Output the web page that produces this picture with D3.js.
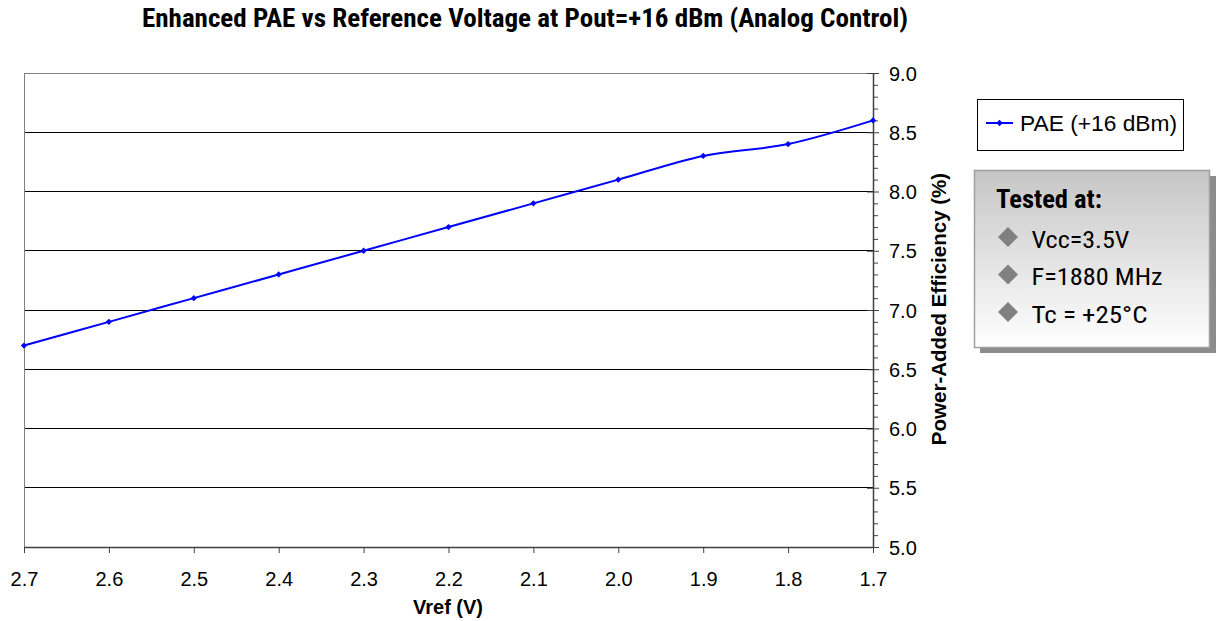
<!DOCTYPE html>
<html><head><meta charset="utf-8">
<script src="https://cdn.jsdelivr.net/npm/d3@7"></script>
<style>body{margin:0;background:#fff}svg{display:block}</style>
</head><body>
<svg id="c" width="1220" height="621"></svg>
<script>
const vref = [2.7, 2.6, 2.5, 2.4, 2.3, 2.2, 2.1, 2.0, 1.9, 1.8, 1.7];
const pae = [6.7, 6.9, 7.1, 7.3, 7.5, 7.7, 7.9, 8.1, 8.3, 8.4, 8.6];
const xTicks = [2.7, 2.6, 2.5, 2.4, 2.3, 2.2, 2.1, 2.0, 1.9, 1.8, 1.7];
const yTicks = [5.0, 5.5, 6.0, 6.5, 7.0, 7.5, 8.0, 8.5, 9.0];
const yMinor = [5.1,5.2,5.3,5.4,5.6,5.7,5.8,5.9,6.1,6.2,6.3,6.4,6.6,6.7,6.8,6.9,7.1,7.2,7.3,7.4,7.6,7.7,7.8,7.9,8.1,8.2,8.3,8.4,8.6,8.7,8.8,8.9];
const titleText = "Enhanced PAE vs Reference Voltage at Pout=+16 dBm (Analog Control)";
const xTitle = "Vref (V)";
const yTitle = "Power-Added Efficiency (%)";
const seriesName = "PAE (+16 dBm)";
const notesTitle = "Tested at:";
const notes = ["Vcc=3.5V", "F=1880 MHz", "Tc = +25°C"];
const notesWidths = [98, 131, 116];

const svg = d3.select("#c");
const L = 24, R = 873, T = 73, B = 547;
const x = d3.scaleLinear().domain([2.7, 1.7]).range([L, R]);
const y = d3.scaleLinear().domain([5, 9]).range([B, T]);
const condensed = "'Liberation Sans Narrow','Arial Narrow','Roboto Condensed',sans-serif";
const sans = "Arial,'Liberation Sans',sans-serif";

// title
svg.append("text").attr("x", 142).attr("y", 27)
  .attr("font-family", condensed).attr("font-weight", "bold").attr("font-size", 26)
  .attr("textLength", 766).attr("lengthAdjust", "spacingAndGlyphs")
  .attr("fill", "#000").text(titleText);

// gridlines
svg.append("g").selectAll("line").data(yTicks.filter(d => d > 5 && d < 9)).join("line")
  .attr("x1", L).attr("x2", R).attr("y1", d => y(d)).attr("y2", d => y(d))
  .attr("stroke", "#000").attr("stroke-width", 1).attr("shape-rendering", "crispEdges");
// plot border top & left
svg.append("line").attr("x1", L).attr("x2", R).attr("y1", T).attr("y2", T).attr("stroke", "#808080").attr("shape-rendering", "crispEdges");
svg.append("line").attr("x1", L).attr("x2", L).attr("y1", T).attr("y2", B).attr("stroke", "#808080").attr("shape-rendering", "crispEdges");

// right axis
const yAxis = d3.axisRight(y).tickValues(yTicks).tickFormat(d3.format(".1f")).tickSizeInner(6).tickSizeOuter(0).tickPadding(10);
const gy = svg.append("g").attr("transform", `translate(${R},0)`).call(yAxis);
gy.select(".domain").attr("stroke", "#404040").attr("stroke-width", 1.5);
gy.selectAll(".tick line").attr("x1", -6).attr("x2", 6).attr("stroke", "#404040");
gy.selectAll(".tick text").attr("font-family", sans).attr("font-size", 20).attr("fill", "#000").attr("dy", "0.36em");
const yMinorAxis = d3.axisRight(y).tickValues(yMinor).tickSize(5).tickFormat("");
const gym = svg.append("g").attr("transform", `translate(${R},0)`).call(yMinorAxis);
gym.select(".domain").remove();
gym.selectAll(".tick line").attr("stroke", "#404040");

// bottom axis
const xAxis = d3.axisBottom(x).tickValues(xTicks).tickFormat(d3.format(".1f")).tickSizeInner(6).tickSizeOuter(0).tickPadding(19);
const gx = svg.append("g").attr("transform", `translate(0,${B})`).call(xAxis);
gx.select(".domain").attr("stroke", "#404040").attr("stroke-width", 1.5);
gx.selectAll(".tick line").attr("stroke", "#404040");
gx.selectAll(".tick text").attr("font-family", sans).attr("font-size", 20).attr("fill", "#000");

// axis titles
svg.append("text").attr("x", 448).attr("y", 614).attr("text-anchor", "middle")
  .attr("font-family", sans).attr("font-weight", "bold").attr("font-size", 20).text(xTitle);
svg.append("text").attr("transform", "translate(946,309) rotate(-90)").attr("text-anchor", "middle")
  .attr("font-family", sans).attr("font-weight", "bold").attr("font-size", 20.5).text(yTitle);

// series
const data = vref.map((v, i) => ({x: v, y: pae[i]}));
const line = d3.line().x(d => x(d.x)).y(d => y(d.y)).curve(d3.curveCatmullRom.alpha(0));
svg.append("path").datum(data).attr("d", line).attr("fill", "none").attr("stroke", "#0000ff").attr("stroke-width", 2);
const diamond = d3.symbol().type(d3.symbolSquare).size(20);
svg.append("g").selectAll("path").data(data).join("path")
  .attr("transform", d => `translate(${x(d.x)},${y(d.y)}) rotate(45)`).attr("d", diamond).attr("fill", "#0000ff");

// legend
const lg = svg.append("g");
lg.append("rect").attr("x", 977.5).attr("y", 99.5).attr("width", 206).attr("height", 51)
  .attr("fill", "#fff").attr("stroke", "#000").attr("stroke-width", 1);
lg.append("line").attr("x1", 986).attr("x2", 1013).attr("y1", 123).attr("y2", 123).attr("stroke", "#0000ff").attr("stroke-width", 2);
lg.append("path").attr("transform", "translate(999.5,123) rotate(45)").attr("d", diamond).attr("fill", "#0000ff");
lg.append("text").attr("x", 1020).attr("y", 131).attr("font-family", sans).attr("font-size", 22.5)
  .attr("textLength", 157).attr("lengthAdjust", "spacingAndGlyphs").text(seriesName);

// notes box
const defs = svg.append("defs");
const grad = defs.append("linearGradient").attr("id", "g1").attr("x1", 0).attr("y1", 0).attr("x2", 0).attr("y2", 1);
grad.append("stop").attr("offset", "0%").attr("stop-color", "#c6c6c6");
grad.append("stop").attr("offset", "100%").attr("stop-color", "#ffffff");
const nb = svg.append("g");
nb.append("rect").attr("x", 980).attr("y", 176).attr("width", 236).attr("height", 177).attr("fill", "#8c8c8c");
nb.append("rect").attr("x", 974.5).attr("y", 170.5).attr("width", 235).attr("height", 177)
  .attr("fill", "url(#g1)").attr("stroke", "#a0a0a0").attr("stroke-width", 1.5);
nb.append("text").attr("x", 996).attr("y", 208).attr("font-family", condensed).attr("font-weight", "bold")
  .attr("font-size", 25).attr("textLength", 106).attr("lengthAdjust", "spacingAndGlyphs").text(notesTitle);
const bigDiamond = d3.symbol().type(d3.symbolSquare).size(200);
notes.forEach((t, i) => {
  const by = 247.5 + i * 37.5;
  nb.append("path").attr("transform", `translate(1008,${by - 10.5}) rotate(45)`).attr("d", bigDiamond).attr("fill", "#808080");
  nb.append("text").attr("x", 1031.5).attr("y", by).attr("font-family", condensed).attr("font-size", 24)
    .attr("textLength", notesWidths[i]).attr("lengthAdjust", "spacingAndGlyphs").text(t);
});
</script>
</body></html>
